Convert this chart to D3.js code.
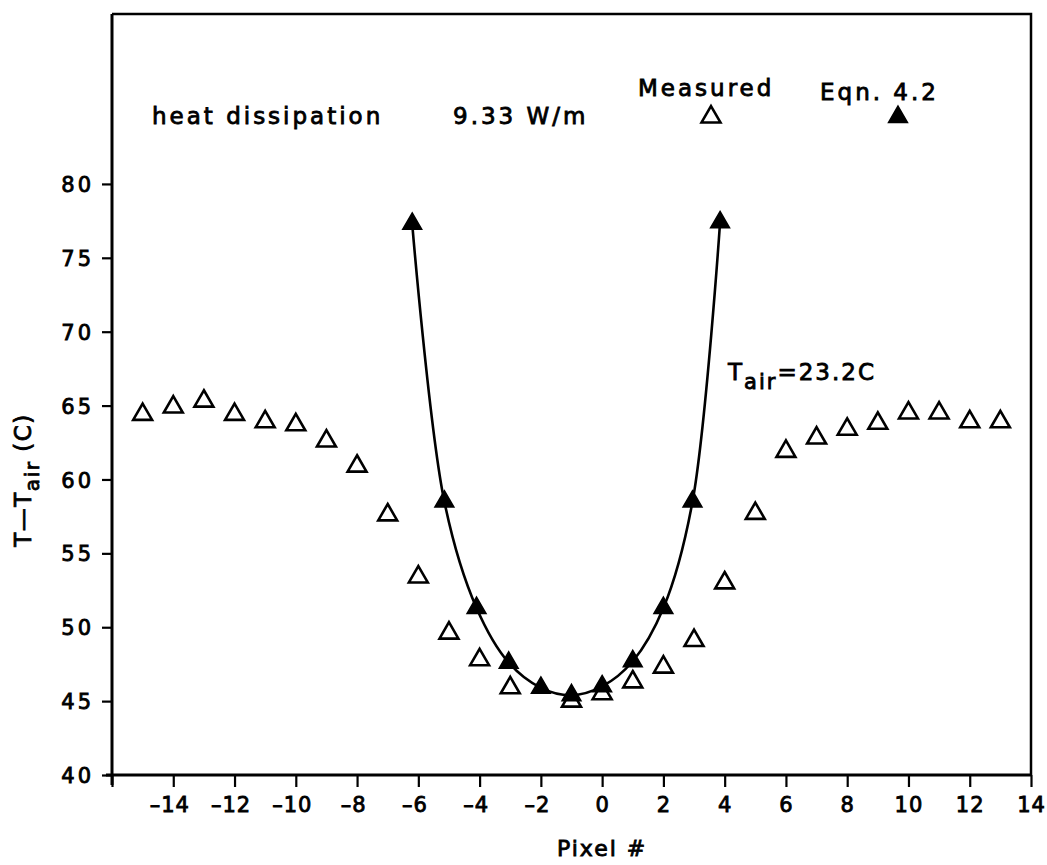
<!DOCTYPE html>
<html>
<head>
<meta charset="utf-8">
<script src="https://cdn.jsdelivr.net/npm/d3@7"></script>
<style>
  html, body { margin: 0; padding: 0; background: #fff; }
  svg { display: block; }
  text { font-family: "DejaVu Sans", sans-serif; fill: #000; stroke: #000; stroke-width: 0.85px; }
</style>
</head>
<body>
<script>
// ---------------- data ----------------
const measuredX = [-15, -14, -13, -12, -11, -10, -9, -8, -7, -6, -5, -4, -3, -1, 0, 1, 2, 3, 4, 5, 6, 7, 8, 9, 10, 11, 12, 13];
const measuredY = [64.4, 64.9, 65.3, 64.4, 63.9, 63.7, 62.6, 60.9, 57.6, 53.4, 49.6, 47.8, 45.9, 45.0, 45.5, 46.3, 47.3, 49.1, 53.0, 57.7, 61.9, 62.8, 63.4, 63.8, 64.5, 64.5, 63.9, 63.9];
const eqnX = [-6.2, -5.15, -4.1, -3.05, -2.0, -1.0, 0.0, 1.0, 2.0, 2.95, 3.85];
const eqnY = [77.3, 58.5, 51.3, 47.6, 45.9, 45.4, 46.0, 47.7, 51.3, 58.5, 77.4];
const xTicks = [-16, -14, -12, -10, -8, -6, -4, -2, 0, 2, 4, 6, 8, 10, 12, 14];
const xTickLabels = ["", "-14", "-12", "-10", "-8", "-6", "-4", "-2", "0", "2", "4", "6", "8", "10", "12", "14"];
const yTicks = [40, 45, 50, 55, 60, 65, 70, 75, 80];
const xDomain = [-16, 14];
const yDomain = [40, 91.5];

// ---------------- layout ----------------
const W = 1047, H = 865;
const L = 112, R = 1031, T = 14, B = 775;

const svg = d3.select("body").append("svg").attr("width", W).attr("height", H);

const x = d3.scaleLinear().domain(xDomain).range([L, R]);
const y = d3.scaleLinear().domain(yDomain).range([B, T]);

// frame (top and right)
svg.append("path")
  .attr("d", `M${L},${T}H${R}V${B}`)
  .attr("fill", "none").attr("stroke", "#000").attr("stroke-width", 2.5);

// x axis
const xAxis = d3.axisBottom(x).tickValues(xTicks).tickSize(12).tickFormat("");
const gx = svg.append("g").attr("transform", `translate(0,${B})`).call(xAxis);
gx.select(".domain").attr("stroke-width", 3).attr("d", `M${L - 6},0H${R}`);
gx.selectAll(".tick line").attr("stroke-width", 2.2);
gx.selectAll(".tick").append("text")
  .attr("y", 37)
  .attr("text-anchor", "middle")
  .attr("dx", (d, i) => xTickLabels[i].startsWith("-") ? -4 : 0)
  .style("font-size", "21px").style("letter-spacing", "1px")
  .text((d, i) => xTickLabels[i].replace("-", "\u2013"));

// y axis
const yAxis = d3.axisLeft(y).tickValues(yTicks).tickSize(10).tickFormat("");
const gy = svg.append("g").attr("transform", `translate(${L},0)`).call(yAxis);
gy.select(".domain").attr("stroke-width", 3).attr("d", `M0,${T}V${B + 10}`);
gy.selectAll(".tick line").attr("stroke-width", 2.2);
gy.selectAll(".tick").append("text")
  .attr("x", -18).attr("dy", "0.36em")
  .attr("text-anchor", "end")
  .style("font-size", "21px").style("letter-spacing", "3px")
  .text(d => d);

// axis titles
svg.append("text")
  .attr("x", x(0)).attr("y", 856)
  .attr("text-anchor", "middle")
  .style("font-size", "22px").style("letter-spacing", "2px")
  .text("Pixel #");

const yt = svg.append("text")
  .attr("transform", "translate(31,480) rotate(-90)")
  .attr("text-anchor", "middle")
  .style("font-size", "23px").style("letter-spacing", "1.5px");
yt.append("tspan").text("T\u2014T");
yt.append("tspan").attr("dy", 8).style("font-size", "20px").text("air");
yt.append("tspan").attr("dy", -8).text("  (C)");

// symbols
const tri = d3.symbol().type(d3.symbolTriangle).size(155);

// equation curve
const line = d3.line().x((d, i) => x(eqnX[i])).y((d, i) => y(eqnY[i])).curve(d3.curveCatmullRom.alpha(0.5));
svg.append("path")
  .datum(eqnY)
  .attr("d", line)
  .attr("fill", "none").attr("stroke", "#000").attr("stroke-width", 2.6);

// measured points (open triangles)
svg.append("g").selectAll("path")
  .data(measuredY)
  .join("path")
  .attr("d", tri)
  .attr("transform", (d, i) => `translate(${x(measuredX[i])},${y(d)})`)
  .attr("fill", "#fff").attr("stroke", "#000").attr("stroke-width", 2.6);

// equation points (filled triangles)
svg.append("g").selectAll("path")
  .data(eqnY)
  .join("path")
  .attr("d", tri)
  .attr("transform", (d, i) => `translate(${x(eqnX[i])},${y(d)})`)
  .attr("fill", "#000").attr("stroke", "#000").attr("stroke-width", 1.5);

// legend
function txt(xp, yp, s) {
  return svg.append("text").attr("x", xp).attr("y", yp)
    .style("font-size", "23px").style("letter-spacing", "3px").text(s);
}
txt(638, 96, "Measured");
txt(820, 100, "Eqn. 4.2");
txt(152, 124, "heat dissipation");
txt(453, 124, "9.33 W/m");
svg.append("path").attr("d", tri).attr("transform", "translate(711,117)")
  .attr("fill", "#fff").attr("stroke", "#000").attr("stroke-width", 2.6);
svg.append("path").attr("d", tri).attr("transform", "translate(898,117)")
  .attr("fill", "#000").attr("stroke", "#000").attr("stroke-width", 1.5);

// T_air annotation
const ta = svg.append("text").attr("x", 728).attr("y", 380)
  .style("font-size", "23px").style("letter-spacing", "2px");
ta.append("tspan").text("T");
ta.append("tspan").attr("dy", 9).style("font-size", "21px").text("air");
ta.append("tspan").attr("dy", -9).text("=23.2C");
</script>
</body>
</html>
